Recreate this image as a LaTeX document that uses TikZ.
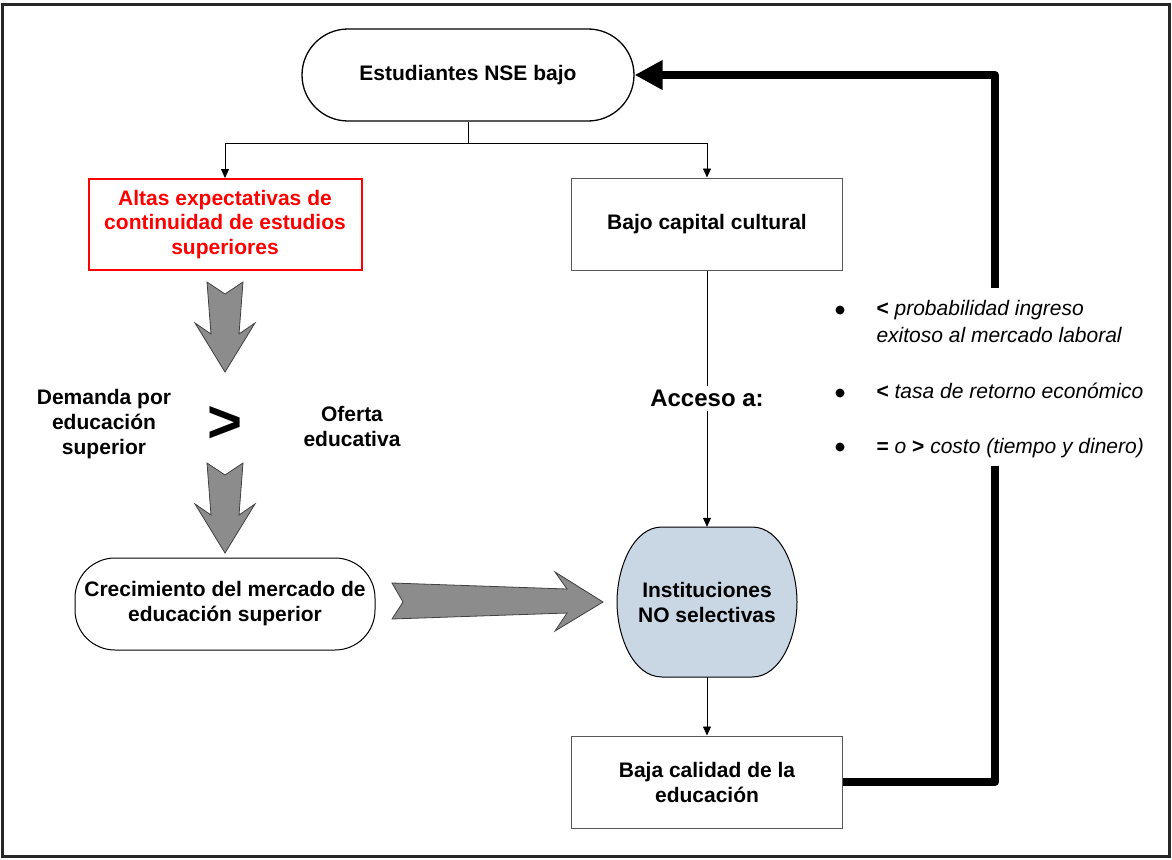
\documentclass[tikz,border=0pt]{standalone}
\usepackage{fontspec}
\setmainfont{Liberation Sans}
\usetikzlibrary{arrows.meta}
\tikzset{
	terminal/.style={draw,line width=1.3pt,rounded corners=46pt,align=center,font=\bfseries\fontsize{21}{25}\selectfont},
	proc/.style={draw=black!65,line width=1pt,minimum width=271pt,minimum height=92pt,align=center,font=\bfseries\fontsize{21}{25}\selectfont},
	redproc/.style={draw=red,line width=2pt,text=red,minimum width=273pt,minimum height=91pt,align=center,font=\bfseries\fontsize{21}{24.5}\selectfont},
	plain/.style={align=center,font=\bfseries\fontsize{21}{25}\selectfont},
	tip/.style={-{Triangle[length=9pt,width=8pt]},line width=0.8pt},
	fb/.style={line width=8pt,line join=round},
	blockarr/.style={fill=black!45,draw=black!75,line width=0.8pt},
	bul/.style={anchor=base west,font=\itshape\fontsize{21}{25}\selectfont}
}
\begin{document}
\begin{tikzpicture}[x=1pt,y=-1pt]
	\useasboundingbox (0,0) rectangle (1172,859);
	\draw [line width=3pt,black!85] (2.5,4.5) rectangle (1169.5,856.5);

	% nodes
	\node [terminal,minimum width=332pt,minimum height=92pt] (estud) at (468,75) {Estudiantes NSE bajo};
	\node [redproc] (altas) at (225,224.5) {Altas expectativas de\\continuidad de estudios\\superiores};
	\node [proc] (bajocap) at (707,224) {Bajo capital cultural};
	\node [terminal,rounded corners=40pt,line width=1pt,minimum width=300pt,minimum height=92pt] (crec) at (225,604) {Crecimiento del mercado de\\educación superior};
	\fill [fill={rgb,255:red,201;green,214;blue,228}] (662,527) -- (752,527) .. controls (781,527) and (797,568) .. (797,602) .. controls (797,636) and (781,677) .. (752,677) -- (662,677) .. controls (633,677) and (617,636) .. (617,602) .. controls (617,568) and (633,527) .. (662,527);
	\draw [line width=1pt] (662,527) -- (752,527) .. controls (781,527) and (797,568) .. (797,602) .. controls (797,636) and (781,677) .. (752,677) -- (662,677) .. controls (633,677) and (617,636) .. (617,602) .. controls (617,568) and (633,527) .. (662,527);
	\node [plain,minimum width=180pt,minimum height=150pt] (inst) at (707,602) {Instituciones\\NO selectivas};
	\node [proc] (bajacal) at (707,782) {Baja calidad de la\\educación};

	% demanda > oferta
	\node [plain] (demanda) at (104,424) {Demanda por\\educación\\superior};
	\node [font=\bfseries\fontsize{60}{60}\selectfont] (mayor) at (225,424) {>};
	\node [plain] (oferta) at (352,426) {Oferta\\educativa};

	% connectors
	\coordinate (split) at (468,143);
	\draw [line width=0.8pt] (estud.south) -- (split);
	\draw [tip] (split) -| (altas.north);
	\draw [tip] (split) -| (bajocap.north);
	\draw [tip] (bajocap.south) -- node [fill=white,font=\bfseries\fontsize{24}{28}\selectfont,inner sep=4pt] {Acceso a:} (inst.north);
	\draw [tip] (inst.south) -- (bajacal.north);

	% feedback
	\coordinate (fb1) at (995,782);
	\coordinate (fb2) at (995,466);
	\coordinate (fb3) at (995,288);
	\coordinate (fb4) at (995,75);
	\draw [fb] (bajacal.east) -- (fb1) -- (fb2);
	\draw [fb,-{Triangle[length=28pt,width=28pt]}] (fb3) -- (fb4) -- (estud.east);

	% block arrows
	\filldraw [blockarr] (207,282) -- (225,294) -- (243,282) -- (239,334) -- (255,323) -- (225,372) -- (195,323) -- (211,334) -- cycle;
	\filldraw [blockarr] (207,463) -- (225,475) -- (243,463) -- (239,515) -- (255,504) -- (225,553) -- (195,504) -- (211,515) -- cycle;
	\filldraw [blockarr] (392,583) -- (567,589) -- (555,572) -- (603,602) -- (555,631) -- (567,613) -- (392,619) -- (403,602) -- cycle;

	% bullets
	\foreach \y in {310,393,447}
		\fill (840,\y) circle (4.5pt);
	\node [bul] (b1) at (873,315) {\upshape\bfseries <\mdseries\itshape{} probabilidad ingreso};
	\node [bul] (b1b) at (873,342) {exitoso al mercado laboral};
	\node [bul] (b2) at (873,398) {\upshape\bfseries <\mdseries\itshape{} tasa de retorno económico};
	\node [bul] (b3) at (873,453) {\upshape\bfseries =\mdseries\itshape{} o \upshape\bfseries >\mdseries\itshape{} costo (tiempo y dinero)};
\end{tikzpicture}
\end{document}
